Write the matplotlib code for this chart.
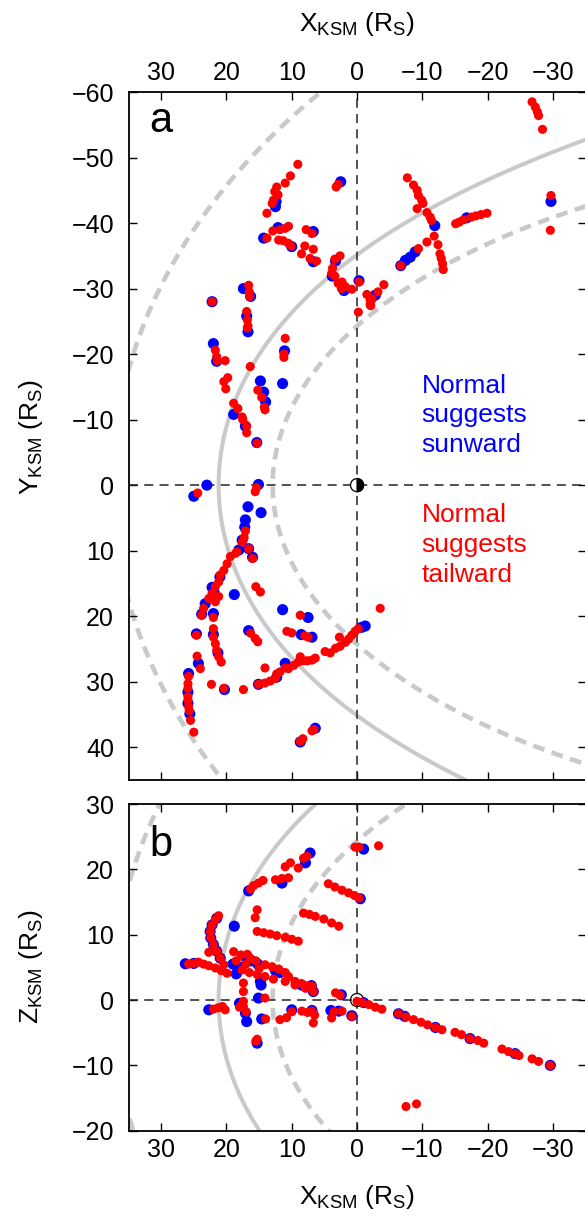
import numpy as np
import matplotlib
matplotlib.use("Agg")
import matplotlib.pyplot as plt
from matplotlib.patches import Circle, Wedge

plt.rcParams['font.family'] = ['Liberation Sans', 'DejaVu Sans']
plt.rcParams['mathtext.fontset'] = 'custom'
plt.rcParams['mathtext.rm'] = 'Liberation Sans'
plt.rcParams['mathtext.it'] = 'Liberation Sans:italic'
plt.rcParams['mathtext.default'] = 'rm'
plt.rcParams['lines.scale_dashes'] = False

# ---------------- data ----------------
x_ticks = [30, 20, 10, 0, -10, -20, -30]
y_ticks = [-60, -50, -40, -30, -20, -10, 0, 10, 20, 30, 40]
z_ticks = [-20, -10, 0, 10, 20, 30]

# panel a : X-Y plane, normal suggests sunward (blue)
a_blue_x = [12.5, 12.4, 2.5, 14.3, 12.1, 10.0, 6.7, 6.7, 3.3, 3.8, 2.0, -0.3, -2.8, 17.4, 16.3, 16.9, 16.7,
            22.2, -29.7, -11.9, -8.9, -8.15, -7.4, -6.7, -16.8, 22.0, 21.5, 11.1, 11.4, 14.8, 14.3, 14.0,
            18.9, 17.1, 15.35, 23.0, 25.0, 15.1, 16.7, 14.7, 17.1, 17.2, 17.6, 18.1, 16.0, 16.6, 21.0,
            22.2, 21.9, 23.25, 23.8, 22.0, 22.0, 21.3, 24.6, 24.3, 18.8, 11.4, 7.5, 16.6, 8.55, 6.9,
            25.8, 25.9, 25.9, 25.6, 20.3, 15.1, 12.3, 11.0, -1.25, -0.7, 6.4, 8.7]
a_blue_y = [-42.5, -43.3, -46.3, -37.7, -39.3, -36.4, -38.7, -34.1, -34.2, -31.9, -29.7, -31.2, -29.0,
            -30.0, -28.8, -25.8, -23.4, -28.0, -43.3, -39.6, -35.6, -34.8, -34.3, -33.5, -40.8, -21.6,
            -18.9, -20.5, -15.5, -15.9, -14.2, -12.7, -10.8, -9.0, -6.5, 0.0, 1.7, -0.1, 3.3, 4.2, 5.3,
            6.4, 8.4, 9.9, 11.0, 9.7, 14.0, 15.6, 16.3, 18.1, 19.7, 19.6, 22.8, 25.6, 22.7, 27.2, 16.7,
            19.0, 20.2, 22.2, 22.8, 23.2, 28.75, 31.6, 33.3, 34.9, 31.2, 30.4, 29.3, 27.2, 21.5, 21.7,
            37.1, 39.2]

# panel a : normal suggests tailward (red)
a_red_x = [9.07, 10.2, 11.0, 12.3, 12.1, 12.8, 13.0, 12.6, 13.8, 3.2, 2.9,
           13.8, 12.9, 11.8, 11.0, 10.5, 12.0, 11.3, 10.5, 10.1, 7.8, 6.9, 8.0, 8.5, 6.7, 7.2, 6.2,
           2.6, 3.4, 3.75, 3.9, 3.4, 2.3, 2.9, 1.8, 0.8, 2.4, -0.3, -1.5, -2.0, -2.0, -0.2,
           16.6, 16.5, 16.4, 16.9, 16.8, 16.8, 22.2,
           -26.8, -27.3, -27.6, -27.8, -28.4, -29.7, -29.6,
           -7.7, -8.65, -9.2, -9.4, -9.9, -10.1, -9.2, -10.7, -11.2, -11.4, -11.8, -10.7, -9.4, -6.7,
           -12.4, -12.7, -12.9, -13.1, -13.2,
           -15.1, -15.65, -16.3, -17.5, -18.2, -19.0, -19.9,
           -4.1, -3.2, -2.3, -2.1,
           16.7, 21.7, 21.5, 21.4, 20.2, 19.8, 20.4, 20.1, 16.35, 11.0, 11.2, 11.2, 15.2, 14.6, 14.2,
           14.1, 18.9, 18.25, 17.6, 17.5, 16.9, 16.9, 15.3,
           24.4, 15.4, 15.6, 17.1, 17.3, 17.6, 16.6, 18.6, 18.4, 16.0,
           19.4, 19.9, 20.4, 20.95, 21.2, 21.7, 22.2, 22.7, 23.5, 23.8, 21.7, 21.2, 22.0, 22.0, 22.0,
           21.7, 21.5, 21.2, 20.8, 24.6, 24.5, 24.0, 15.5, 14.8, 8.7, 16.3, 15.6, 15.2, 10.75, 10.0,
           8.0, 7.5,
           25.8, 25.9, 25.9, 25.9, 25.9, 25.8, 25.7, 25.5, 25.0, 22.3, 20.4, 17.4,
           15.1, 14.1, 13.3, 12.5, 12.3, 11.8, 11.0, 10.5, 9.7, 9.0, 8.7, 8.2, 7.6, 6.9, 6.4, 14.1,
           4.9, 4.1, 3.3, 2.6, 2.7, 1.8, 1.3, 0.8, 0.3, -0.2, -3.55,
           6.9, 6.6, 8.7, 8.3]
a_red_y = [-48.96, -47.2, -46.1, -45.5, -44.3, -43.5, -43.0, -44.8, -41.5, -45.5, -45.9,
           -37.7, -38.8, -39.0, -39.2, -39.5, -37.4, -37.3, -36.9, -36.5, -39.0, -38.4, -36.5, -35.3,
           -36.0, -34.6, -34.2,
           -35.0, -34.5, -33.1, -32.3, -31.9, -31.0, -30.8, -30.3, -29.9, -30.0, -31.0, -29.1, -28.2,
           -27.5, -26.4,
           -30.5, -29.5, -28.8, -26.5, -25.2, -24.0, -28.0,
           -58.5, -57.7, -57.0, -56.4, -54.3, -44.2, -38.9,
           -46.9, -45.8, -45.0, -44.2, -43.5, -43.0, -42.2, -41.6, -40.9, -40.4, -38.0, -37.1, -36.1,
           -33.5,
           -36.7, -35.3, -34.6, -33.8, -32.9,
           -39.9, -40.15, -40.5, -40.9, -41.1, -41.3, -41.5,
           -30.6, -29.5, -28.4, -27.4,
           -24.3, -20.6, -19.6, -19.0, -19.0, -16.4, -15.8, -14.7, -18.1, -22.4, -20.0, -19.5, -14.5,
           -13.4, -11.9, -11.5, -12.5, -11.7, -10.4, -10.0, -9.0, -8.0, -6.4,
           1.2, 0.4, 1.0, 7.0, 8.0, 8.7, 9.7, 10.4, 10.2, 11.2,
           10.9, 12.0, 13.0, 13.7, 14.8, 15.5, 16.5, 17.3, 18.8, 19.85, 17.8, 17.0, 20.2, 21.9, 23.2,
           24.2, 25.2, 26.2, 27.0, 22.9, 26.1, 28.0, 15.5, 16.3, 19.85, 22.6, 23.4, 23.9, 22.3, 22.55,
           23.0, 23.2,
           29.2, 30.3, 31.0, 32.3, 32.8, 33.8, 34.4, 35.9, 37.7, 30.4, 31.0, 31.2,
           30.4, 30.2, 29.9, 29.5, 28.8, 28.5, 27.9, 28.0, 27.5, 27.0, 26.2, 26.8, 26.8, 26.7, 26.4,
           27.9,
           25.4, 25.6, 24.9, 24.6, 23.2, 24.0, 23.5, 22.9, 22.3, 21.9, 18.8,
           37.5, 37.3, 39.1, 38.7]

# panel b : X-Z plane, normal suggests sunward (blue)
b_blue_x = [-1.0, 7.2, 7.9, 11.5, 16.6, -0.5, 18.8,
            21.5, 22.2, 22.5, 22.4, 22.0, 21.5, 20.95, 26.3, 25.0, 19.0, 18.5, 17.8, 17.0, 16.2, 15.2,
            14.8, 14.7, 12.5, 11.8, 6.7, 7.0, 8.5, 18.0, 17.1, 16.9, 15.1, 14.6, 15.3, 22.7, 10.0, 6.9,
            2.8, 4.0, 2.4, -1.0, -6.35, -7.3, -12.0, -17.3, -24.2, -29.6, 0.8]
b_blue_z = [23.1, 22.5, 21.0, 17.9, 16.7, 15.5, 11.3,
            12.5, 11.5, 10.5, 9.5, 8.5, 7.5, 6.4, 5.55, 5.6, 5.5, 4.0, 5.0, 6.5, 6.0, 5.5,
            2.85, 2.3, 4.5, 4.2, 1.3, 2.2, 2.3, -0.5, -2.0, -3.3, 0.3, -2.9, -6.6, -1.5, -1.5, -1.6,
            -1.7, -1.6, 0.8, -0.4, -2.1, -2.5, -4.2, -5.9, -8.2, -10.0, -2.4]

# panel b : normal suggests tailward (red)
b_red_x = [0.3, -0.3, -3.3, 8.2, 7.7, 9.0, 10.2, 11.0, 10.5, 11.5, 12.5, 14.4, 15.1, 15.85, 16.3,
           15.3, 15.6,
           4.4, 3.4, 2.3, 1.3, 0.4, -0.3,
           8.2, 7.3, 6.4, 5.1, 3.9, 2.8,
           15.3, 14.3, 13.3, 12.3, 11.0, 10.0, 9.0,
           21.2, 21.7, 22.2, 22.5, 22.4, 22.0, 21.5, 20.95, 20.4, 19.9,
           25.8, 25.0, 24.3, 23.5, 22.7, 21.7, 20.8, 22.7,
           18.9, 17.8, 16.35, 15.5, 14.1, 13.0, 12.0, 11.0, 10.5, 9.5, 8.5, 7.5, 6.9, 6.7,
           17.6, 16.5, 15.3, 14.1, 12.8, 11.0, 9.5, 7.9,
           18.5, 17.0, 16.8, 15.0,
           17.4, 17.4, 17.4, 17.4, 17.0, 14.1, 14.0, 15.5, 15.3,
           22.0, 21.3, 20.2, 20.6, 18.0, 17.7,
           11.8, 10.8, 10.0, 8.45, 7.6, 6.9, 6.7, 6.5, 3.9, 3.5, 2.3, 0.8, 3.3, 2.6,
           0.0, -0.8, -1.8, -2.8, -3.8, -6.35, -7.5, -8.65, -9.8, -10.8, -12.0, -13.0, -15.0, -16.0,
           -17.3, -18.5, -19.4, -22.2, -23.2, -24.2, -24.8, -26.8, -27.8, -29.6,
           -7.5, -9.1]
b_red_z = [23.4, 23.4, 23.6, 21.7, 22.0, 20.2, 21.0, 20.4, 18.7, 18.6, 18.4, 18.3, 17.9, 17.5, 17.0,
           13.8, 12.6,
           17.8, 17.3, 16.8, 16.4, 16.0, 15.6,
           13.3, 13.1, 12.8, 12.4, 11.8, 11.3,
           10.5, 10.3, 10.1, 9.85, 9.6, 9.3, 9.0,
           12.9, 12.3, 11.5, 10.5, 9.5, 8.5, 7.5, 6.4, 5.4, 4.1,
           5.5, 5.6, 5.8, 5.5, 5.25, 4.9, 4.5, 7.3,
           7.4, 6.9, 6.4, 6.0, 5.4, 5.1, 4.75, 4.2, 3.6, 2.85, 2.5, 2.2, 2.1, 1.3,
           4.6, 4.2, 3.9, 3.6, 3.2, 2.85, 2.3, 1.8,
           6.0, 5.5, 7.0, 4.8,
           2.6, 1.3, -0.2, -1.0, -1.8, 0.3, -2.9, -6.3, -6.0,
           -1.4, -1.2, -1.5, -1.0, -1.1, -0.8,
           -3.0, -2.7, -1.8, -1.7, -1.9, -1.7, -3.5, -2.3, -2.75, -1.8, -1.7, -2.5, 1.1, 0.75,
           -0.2, -0.4, -0.7, -1.1, -1.4, -2.1, -2.6, -3.0, -3.4, -3.8, -4.2, -4.55, -4.95, -5.3,
           -5.9, -6.2, -6.6, -7.5, -7.9, -8.2, -8.5, -9.0, -9.4, -10.0,
           -16.3, -15.9]

# model boundary parameters
mp_r0, mp_k = 21.2, 0.73          # solid grey (Kanani-type shape)
bs_L, bs_e = 64.2, 0.715          # outer dashed (conic)
in_L, in_e = 24.3, 0.88           # inner dashed (conic)

# ---------------- figure ----------------
W, H = 585, 1218
fig = plt.figure(figsize=(W / 100, H / 100), dpi=100)

left = 128.5 / W
width = 457.1 / W
axA = fig.add_axes([left, 1 - 780 / H, width, 688 / H])
axB = fig.add_axes([left, 1 - 1130.7 / H, width, 326.7 / H])

grey = '#c9c9c9'
blue = '#0000ff'
red = '#ff0000'
FS = 18

th = np.linspace(-2.75, 2.75, 600)
r_mp = mp_r0 * (2.0 / (1 + np.cos(th))) ** mp_k
th2 = np.linspace(-2.6, 2.6, 600)
r_bs = bs_L / (1 + bs_e * np.cos(th2))
r_in = in_L / (1 + in_e * np.cos(th2))


def draw_panel(ax, bx, by, rx, ry, saturn_half):
    ax.plot(r_mp * np.cos(th), r_mp * np.sin(th), color=grey, lw=2.9, zorder=1,
            solid_capstyle='butt')
    for rr in (r_bs, r_in):
        ln, = ax.plot(rr * np.cos(th2), rr * np.sin(th2), color=grey, lw=3.3, zorder=1)
        ln.set_dashes((8.5, 5.5))
    l1 = ax.axhline(0, color='#222222', lw=1.1, zorder=2)
    l1.set_dashes((6.5, 4.5))
    l2 = ax.axvline(0, color='#222222', lw=1.1, zorder=2)
    l2.set_dashes((6.5, 4.5))
    if saturn_half:
        ax.add_patch(Circle((0, 0), 1.0, facecolor='white', edgecolor='black', lw=0.9, zorder=3))
        ax.add_patch(Wedge((0, 0), 1.0, 90, 270, facecolor='black', edgecolor='black', lw=0.9,
                           zorder=3))
    else:
        ax.add_patch(Circle((0, 0), 1.0, facecolor='none', edgecolor='black', lw=0.9, zorder=3))
    ax.scatter(bx, by, s=64, color=blue, edgecolors='none', zorder=4)
    ax.scatter(rx, ry, s=43, color=red, edgecolors='none', zorder=5)
    ax.set_xlim(35, -35)
    ax.set_xticks(x_ticks)
    for sp in ax.spines.values():
        sp.set_linewidth(1.3)
    ax.tick_params(direction='in', length=5.5, width=1.0, top=True, bottom=True, left=True,
                   right=True, labelsize=FS, pad=6)


draw_panel(axA, a_blue_x, a_blue_y, a_red_x, a_red_y, True)
axA.set_ylim(45, -60)
axA.set_yticks(y_ticks)
axA.tick_params(axis='x', labeltop=True, labelbottom=False, pad=5)
axA.tick_params(axis='y', pad=10.5)

draw_panel(axB, b_blue_x, b_blue_z, b_red_x, b_red_z, False)
axB.set_ylim(-20, 30)
axB.set_yticks(z_ticks)
axB.tick_params(axis='x', labeltop=False, labelbottom=True, pad=5.5)
axB.tick_params(axis='y', pad=10.5)

# panel letters
axA.text(30, -55.6, 'a', fontsize=30, ha='center', va='center', zorder=6)
axB.text(30, 23.8, 'b', fontsize=30, ha='center', va='center', zorder=6)

# annotations
for txt, yy in (('Normal', -14.1), ('suggests', -9.66), ('sunward', -5.04)):
    axA.text(-9.9, yy, txt, color=blue, fontsize=19, ha='left', va='baseline', zorder=6)
for txt, yy in (('Normal', 5.6), ('suggests', 10.2), ('tailward', 14.8)):
    axA.text(-9.9, yy, txt, color=red, fontsize=19, ha='left', va='baseline', zorder=6)

# axis labels
xlab = r'X$_{\mathrm{KSM}}$ (R$_{\mathrm{S}}$)'
fig.text(357 / W, 1 - 24 / H, xlab, fontsize=19, ha='center', va='center')
fig.text(357 / W, 1 - 1197 / H, xlab, fontsize=19, ha='center', va='center')
fig.text(31 / W, 1 - 437 / H, r'Y$_{\mathrm{KSM}}$ (R$_{\mathrm{S}}$)', fontsize=19,
         rotation=90, ha='center', va='center')
fig.text(31 / W, 1 - 967 / H, r'Z$_{\mathrm{KSM}}$ (R$_{\mathrm{S}}$)', fontsize=19,
         rotation=90, ha='center', va='center')

fig.savefig('out.png', dpi=100)
